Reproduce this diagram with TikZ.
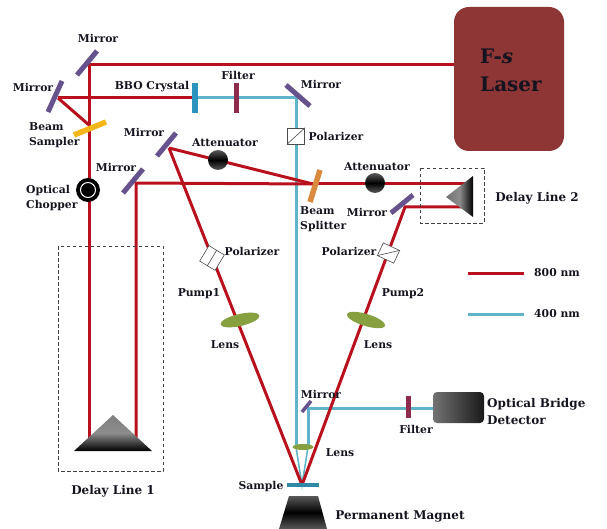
\documentclass[tikz,border=0pt]{standalone}
\usepackage{fontspec}
\setmainfont{DejaVu Serif}
\usetikzlibrary{calc,shapes.geometric}
\definecolor{redbeam}{HTML}{B8101C}
\definecolor{bluebeam}{HTML}{5FB4CC}
\definecolor{mirrorc}{HTML}{66528C}
\definecolor{laserc}{HTML}{8E3535}
\definecolor{filterc}{HTML}{8E2A4C}
\definecolor{bboc}{HTML}{2A93BE}
\definecolor{samplec}{HTML}{2F88A6}
\definecolor{lensc}{HTML}{86A040}
\definecolor{sampler}{HTML}{F4B516}
\definecolor{splitc}{HTML}{D98A3C}
\definecolor{txt}{HTML}{141420}
\tikzset{
  x=1pt,y=-1pt,
  lbl/.style={font=\fontsize{10.8}{15}\selectfont\bfseries,text=txt,inner sep=0pt,align=center},
  lbll/.style={lbl,align=left},
  biglbl/.style={lbl,font=\fontsize{12}{17}\selectfont\bfseries},
  red800/.style={draw=redbeam,line width=3pt,line join=miter},
  blue400/.style={draw=bluebeam,line width=3pt},
  mirrorbar/.style={line width=5pt,draw=mirrorc},
  filterbar/.style={line width=5pt,draw=filterc},
  lens/.style={ellipse,fill=lensc},
  dashbox/.style={draw=black!75,line width=0.7pt,dash pattern=on 3.5pt off 2.5pt},
  polbox/.style={draw=black!70,fill=white,line width=0.6pt,inner sep=0pt},
  atten/.style={circle,minimum size=20pt,inner sep=0pt,top color=black!65,bottom color=black!65,middle color=black},
}
\begin{document}
\begin{tikzpicture}
\useasboundingbox (0,0) rectangle (607,529);
% beam points
\coordinate (mA) at (89,65);
\coordinate (mB) at (58,98);
\coordinate (bs) at (89,125);
\coordinate (mC) at (169,148);
\coordinate (mD) at (136,183);
\coordinate (split) at (313,184);
\coordinate (pt1a) at (89,438);
\coordinate (pt1b) at (136,438);
\coordinate (pt2a) at (465,184);
\coordinate (pt2b) at (470,207);
\coordinate (mE) at (405,207);
\coordinate (mF) at (296,98);
\coordinate (mG) at (308,408);
\coordinate (smp) at (302,485);
\coordinate (lensfoc1) at (296,447);
\coordinate (lensfoc2) at (308,447);
\coordinate (bbo) at (195,98);
\coordinate (dete) at (433,408);
% Laser
\node[draw=none,fill=laserc,rounded corners=15pt,minimum width=110pt,minimum height=144pt,inner sep=0pt] (laser) at (509,79) {};
\node[lbll,font=\fontsize{20}{28}\selectfont\bfseries,anchor=north west] at (480,49) {F-\textit{s}\\Laser};
% blue beams
\draw[blue400] (bbo) -- (mF) -- (lensfoc1);
\draw[blue400,line width=1.6pt] (lensfoc1) -- (smp) -- (lensfoc2);
\draw[blue400] (lensfoc2) -- (mG) -- (dete);
% red beams
\draw[red800] (laser.west |- mA) -- (mA) -- (pt1a);
\draw[red800] (mB) -- (bbo);
\draw[red800] (bs) -- (mB);
\draw[red800] (mC) -- (split);
\draw[red800] (mC) -- (smp);
\draw[red800] (pt1b) -- (mD) -- (split);
\draw[red800] (split) -- (pt2a);
\draw[red800] (pt2b) -- (mE) -- (smp);
% mirrors etc
\draw[mirrorbar] (77,75) -- (97,51);
\draw[mirrorbar] (48,112) -- (62,81);
\draw[mirrorbar] (157,156) -- (176,133);
\draw[mirrorbar] (123,193) -- (143,169);
\draw[mirrorbar] (286,85) -- (310,106);
\draw[mirrorbar] (391,213) -- (413,195);
\draw[mirrorbar,line width=3.5pt] (302,412) -- (311,401);
\draw[line width=5.5pt,draw=sampler] (74,135) -- (106,122);
\draw[line width=5.5pt,draw=bboc] (195,83) -- (195,113);
\draw[filterbar] (236,83) -- (236,113);
\draw[filterbar] (408,396) -- (408,418);
\draw[line width=5.5pt,draw=splitc] (320,170) -- (310,202);
\draw[line width=4pt,draw=samplec] (287,485) -- (319,485);
% chopper
\node[circle,fill=black,minimum size=24pt,inner sep=0pt] (chop) at (88,190) {};
\node[circle,draw=white,line width=1pt,minimum size=15pt,inner sep=0pt] at (chop) {};
% attenuators
\node[atten] (att1) at (218,160) {};
\node[atten] (att2) at (375,183) {};
% polarizers
\node[polbox,minimum width=17.5pt,minimum height=16pt] (pol0) at (296,136) {};
\draw[black!70,line width=0.6pt] (pol0.south west) -- (pol0.north east);
\node[polbox,minimum width=18pt,minimum height=18pt,rotate=-31] (pol1) at (212,258) {};
\draw[black!70,line width=0.6pt] (pol1.north) -- (pol1.south);
\node[polbox,minimum width=18pt,minimum height=14pt,rotate=-25] (pol2) at (388.5,253) {};
\draw[black!70,line width=0.6pt] (pol2.south west) -- (pol2.north east);
% lenses
\node[lens,minimum width=40pt,minimum height=12pt,inner sep=0pt,rotate=13] (lens1) at (240,320) {};
\node[lens,minimum width=40pt,minimum height=12pt,inner sep=0pt,rotate=-17] (lens2) at (366,320) {};
\node[lens,minimum width=21pt,minimum height=6pt,inner sep=0pt] (lens3) at (303,447) {};
% prisms
\path[top color=black!50,bottom color=black,middle color=black!45] (113,415) -- (152,451) -- (74,451) -- cycle;
\path[left color=black!55,right color=black,middle color=black!45] (446,197) -- (473,176) -- (473,217) -- cycle;
% dashed boxes
\draw[dashbox] (58,246) rectangle (163,471);
\draw[dashbox] (420,168) rectangle (484,223);
% magnet
\path[top color=black!65,bottom color=black!65,middle color=black] (289,496) -- (318,496) -- (327,529) -- (279,529) -- cycle;
% detector
\node[rounded corners=4pt,minimum width=51pt,minimum height=31pt,inner sep=0pt,shading=axis,shading angle=45,left color=black!55,right color=black!90] (det) at (458.5,407.5) {};
% legend
\coordinate (l1a) at (468,273); \coordinate (l1b) at (524,273);
\coordinate (l2a) at (468,314); \coordinate (l2b) at (524,314);
\draw[red800] (l1a) -- (l1b);
\draw[blue400] (l2a) -- (l2b);
% labels
\node[lbl] at (98,38) {Mirror};
\node[lbl] at (33,87) {Mirror};
\node[lbl] at (152,87) {BBO Crystal};
\node[lbl] at (238,75) {Filter};
\node[lbl] at (321,84) {Mirror};
\node[lbl] at (336,136) {Polarizer};
\node[lbll,anchor=west] at (29,135.5) {Beam\\Sampler};
\node[lbl] at (144,132) {Mirror};
\node[lbl] at (225,143) {Attenuator};
\node[lbl] at (116,167) {Mirror};
\node[lbll,anchor=west] at (26,198.5) {Optical\\Chopper};
\node[lbl] at (252,251) {Polarizer};
\node[lbl] at (377,167) {Attenuator};
\node[lbll,anchor=west] at (300,219) {Beam\\Splitter};
\node[lbl] at (367,212) {Mirror};
\node[lbl] at (349,251) {Polarizer};
\node[biglbl] at (537,198) {Delay Line 2};
\node[lbl] at (199,294) {Pump1};
\node[lbl] at (225,345) {Lens};
\node[lbl] at (403,294) {Pump2};
\node[lbl] at (378,345) {Lens};
\node[lbl] at (321,394) {Mirror};
\node[lbl] at (416,429) {Filter};
\node[biglbl,anchor=west,align=left] at (487,411.5) {Optical Bridge\\Detector};
\node[lbl] at (340,453) {Lens};
\node[lbl] at (261,487) {Sample};
\node[biglbl] at (400,516) {Permanent Magnet};
\node[biglbl] at (113,491) {Delay Line 1};
\node[lbl] at (557,273) {800 nm};
\node[lbl] at (557,314) {400 nm};
\end{tikzpicture}
\end{document}
